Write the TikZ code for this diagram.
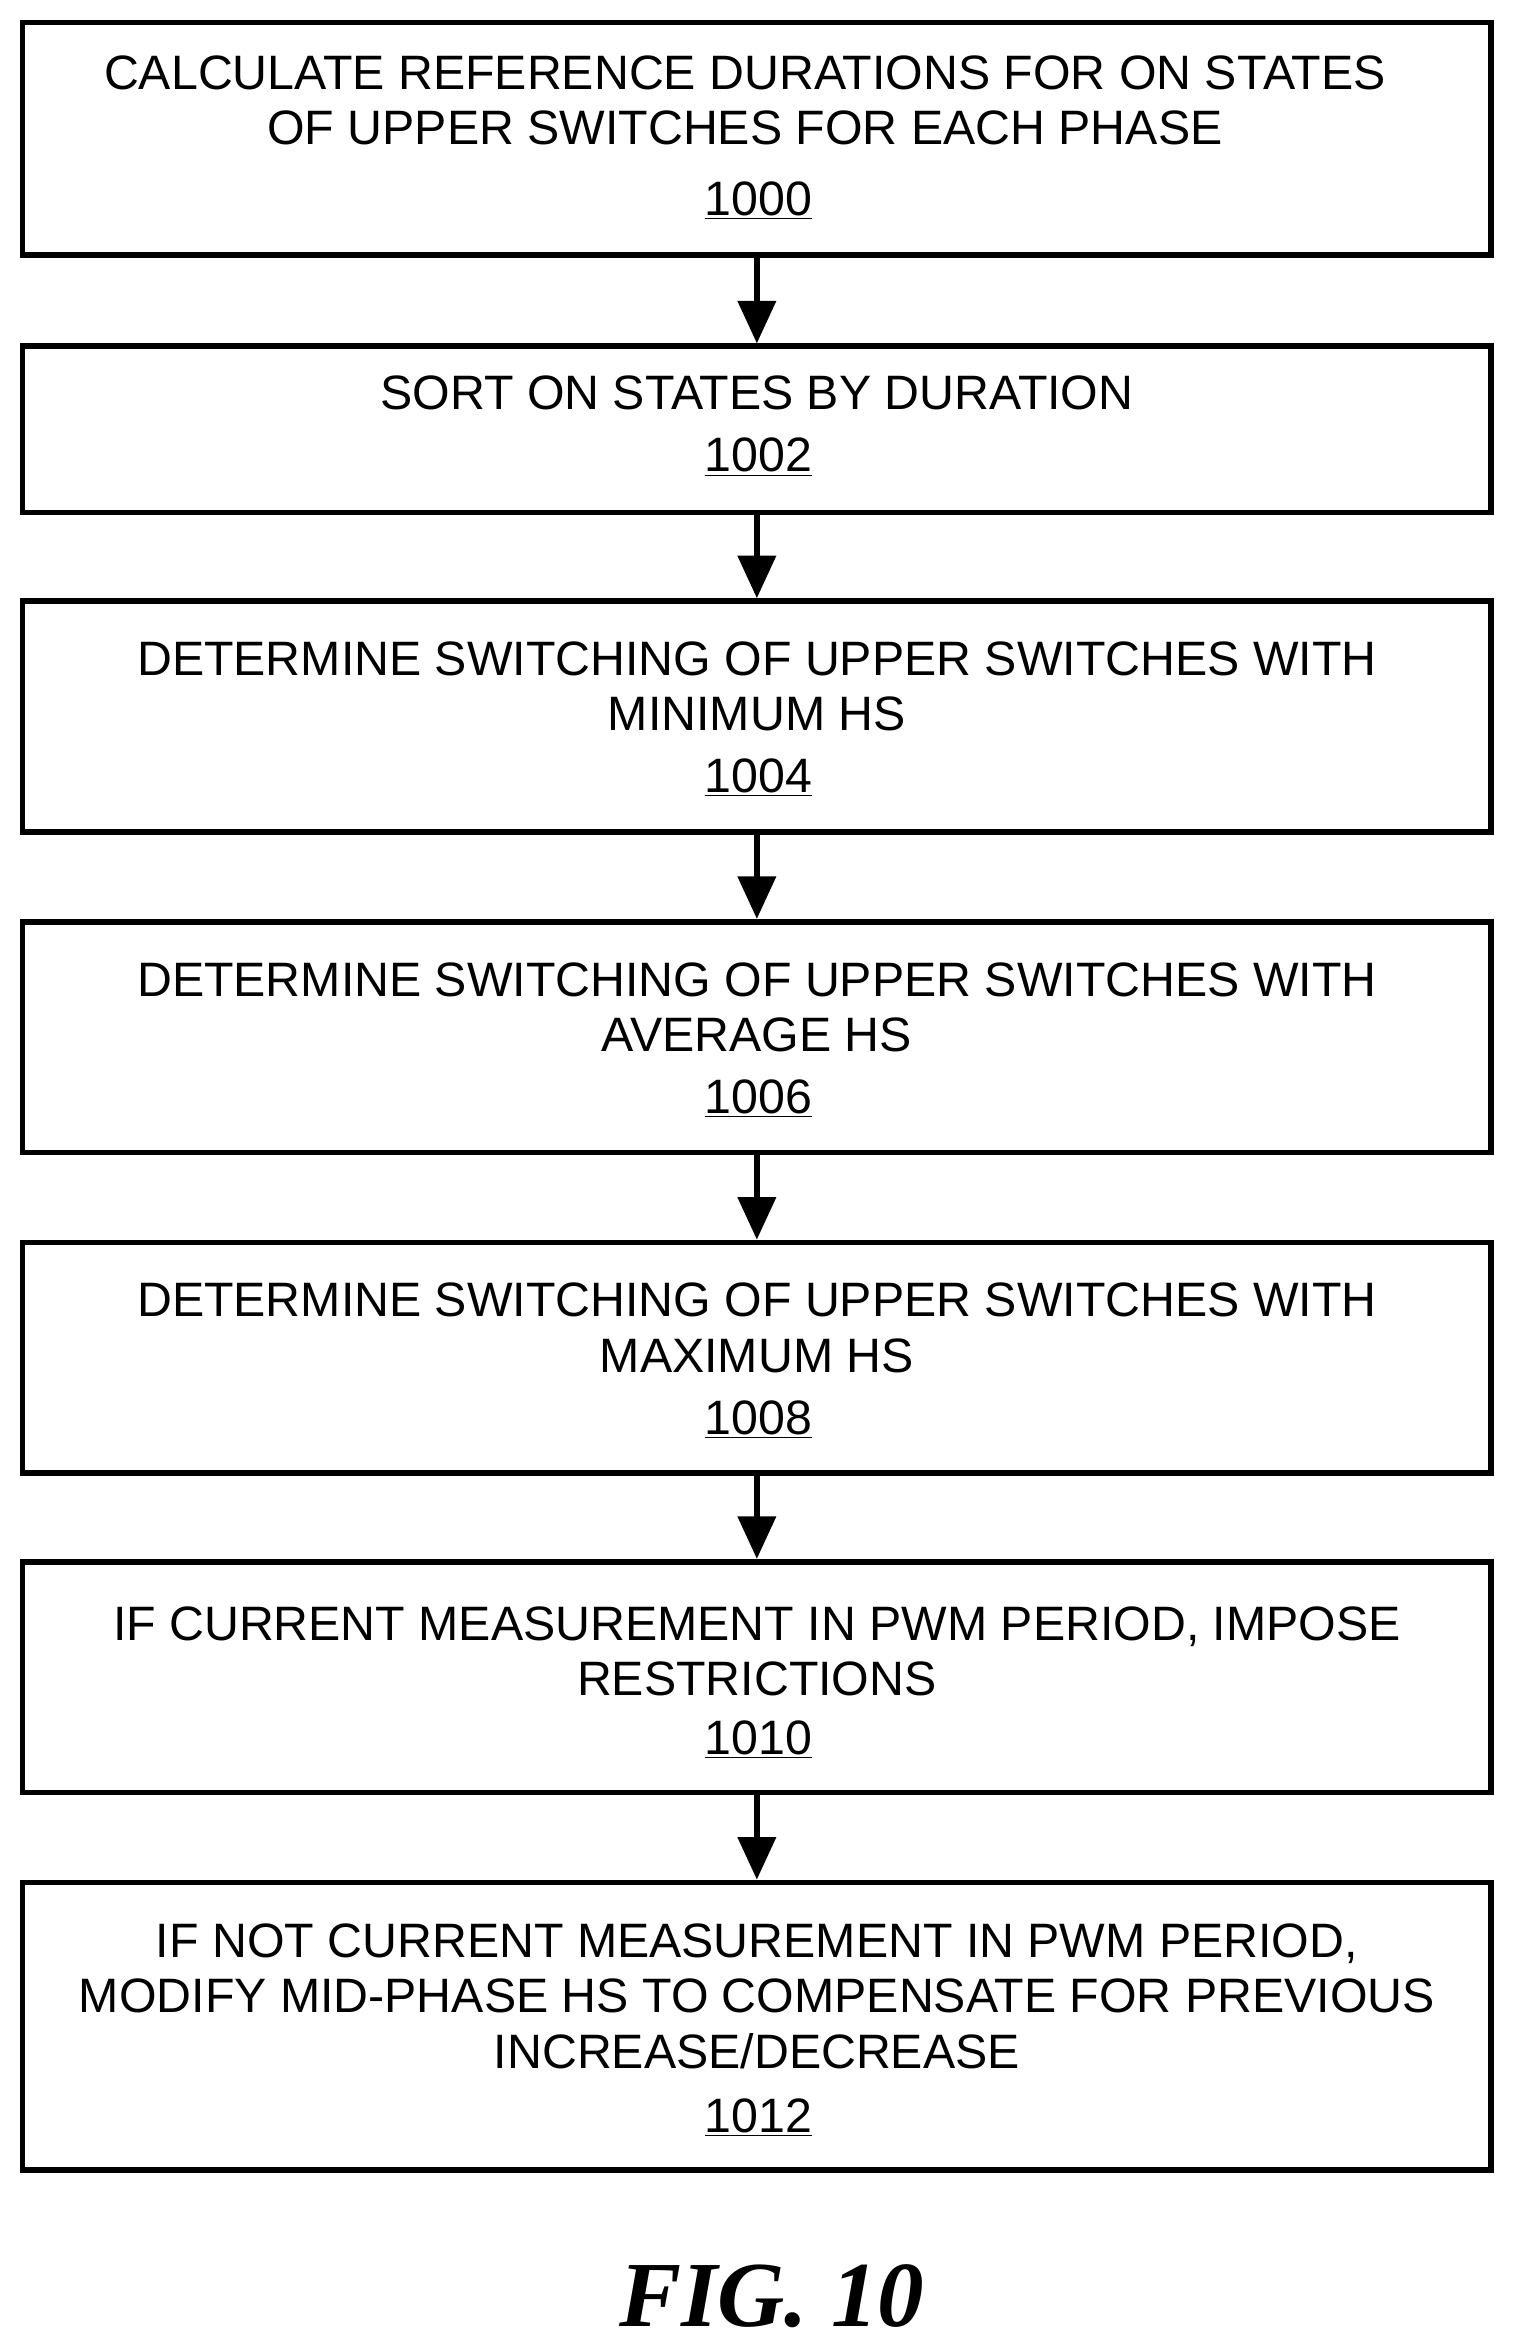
\documentclass[tikz,border=0pt]{standalone}
\usepackage{fontspec}
\setmainfont{Liberation Sans}
\newfontfamily\figfont{Liberation Serif}
\usetikzlibrary{arrows.meta}
\begin{document}
\begin{tikzpicture}[x=0.03cm,y=-0.03cm,
  box/.style={draw,line width=3.2pt,minimum width=29.4cm,inner sep=0pt},
  txt/.style={font=\fontsize{27.5}{31.5}\selectfont,align=center,inner sep=0pt,anchor=center},
  num/.style={font=\fontsize{27.5}{29}\selectfont,inner sep=0pt},
  arr/.style={line width=3.2pt,-{Triangle[length=0.85cm,width=0.75cm]}}]
\useasboundingbox (0,0) rectangle (1010,1568);
\newcommand{\mybox}[4]{\node[box,minimum height={(#3-#2)*0.03cm}] (#1) at (505,{(#2+#3)/2}) {};}
\mybox{b1}{15}{170}{}
\mybox{b2}{231}{342}{}
\mybox{b3}{401}{555}{}
\mybox{b4}{615}{769}{}
\mybox{b5}{829}{983}{}
\mybox{b6}{1042}{1196}{}
\mybox{b7}{1256}{1448}{}
\node[txt] (t1) at (497,67) {CALCULATE REFERENCE DURATIONS FOR ON STATES\\OF UPPER SWITCHES FOR EACH PHASE};
\node[num] (n1) at (506,134) {\underline{1000}};
\node[txt] (t2) at (505,262) {SORT ON STATES BY DURATION};
\node[num] (n2) at (506,305) {\underline{1002}};
\node[txt] (t3) at (505,458) {DETERMINE SWITCHING OF UPPER SWITCHES WITH\\MINIMUM HS};
\node[num] (n3) at (506,519) {\underline{1004}};
\node[txt] (t4) at (505,672) {DETERMINE SWITCHING OF UPPER SWITCHES WITH\\AVERAGE HS};
\node[num] (n4) at (506,733) {\underline{1006}};
\node[txt] (t5) at (505,886) {DETERMINE SWITCHING OF UPPER SWITCHES WITH\\MAXIMUM HS};
\node[num] (n5) at (506,947) {\underline{1008}};
\node[txt] (t6) at (505,1102) {IF CURRENT MEASUREMENT IN PWM PERIOD, IMPOSE\\RESTRICTIONS};
\node[num] (n6) at (506,1161) {\underline{1010}};
\node[txt] (t7) at (505,1332) {IF NOT CURRENT MEASUREMENT IN PWM PERIOD,\\MODIFY MID-PHASE HS TO COMPENSATE FOR PREVIOUS\\INCREASE/DECREASE};
\node[num] (n7) at (506,1413) {\underline{1012}};
\foreach \a/\b in {b1/b2,b2/b3,b3/b4,b4/b5,b5/b6,b6/b7}
  \draw[arr] (\a.south) -- (\b.north);
\node[font=\figfont\fontsize{53}{55}\selectfont\bfseries\itshape] (fig) at (515,1532) {FIG. 10};
\end{tikzpicture}
\end{document}
